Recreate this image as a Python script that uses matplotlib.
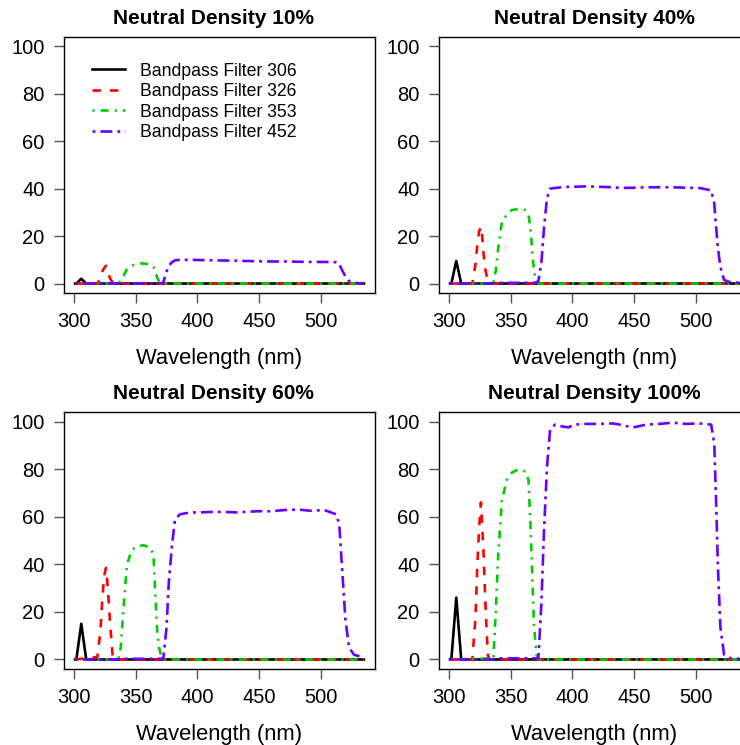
import matplotlib
matplotlib.use("Agg")
import matplotlib.pyplot as plt

plt.rcParams['font.family'] = ['Liberation Sans', 'DejaVu Sans']

# wavelength grids (nm) for each filter curve
wl_306 = [301, 302, 306, 310, 535]
wl_326 = [301, 319, 321.5, 323, 324.5, 326, 327, 328, 329.5, 331.5, 333, 535]
wl_353 = [301, 336, 338, 340, 343, 347, 351, 356.5, 362, 364.5, 366, 367.5, 369, 371, 373, 535]
wl_452 = [301, 335, 340, 370, 372.5, 375, 377, 379.5, 382, 386, 391, 397, 401, 411.5,
          422, 433, 438.5, 449, 460, 470.5, 481.5, 492, 503, 512.5, 515, 516.5, 518,
          520, 523, 527, 535]

# transmission (%), one list per neutral density panel
t306_10 = [0, 0, 2, 0, 0]
t306_40 = [0, 0, 9.5, 0, 0]
t306_60 = [0, 0, 15, 0, 0]
t306_100 = [0, 0, 26, 0, 0]

t326_10 = [0, 0, 2, 5, 6.5, 7.5, 6, 4, 2, 0.3, 0, 0]
t326_40 = [0, 0, 8, 16, 22, 24, 20, 13, 6, 1, 0, 0]
t326_60 = [0, 1, 12, 25, 35, 38.5, 33, 26, 14, 1, 0, 0]
t326_100 = [0, 0, 17, 39, 55, 66, 56, 46, 25, 2, 0, 0]

t353_10 = [0, 0, 1, 3, 6, 7.5, 8.3, 8.5, 8, 7, 5, 2.5, 1, 0.3, 0, 0]
t353_40 = [0, 0, 5.5, 15, 26, 29, 31, 31.5, 31, 29, 24, 14, 5, 1, 0, 0]
t353_60 = [0, 0, 5, 20, 40, 46, 47.5, 48, 47, 44, 27, 12, 5, 1, 0, 0]
t353_100 = [0, 0.5, 20, 44, 67, 75.5, 78.5, 80, 79, 75.5, 58, 37, 14, 2, 0, 0]

t452_10 = [0, 0, 0, 0, 0.5, 5, 7.5, 9, 9.8, 10, 10, 10, 9.9, 9.8, 9.7, 9.6, 9.5, 9.4,
           9.3, 9.3, 9.2, 9.1, 9.1, 9, 8.5, 6.5, 5, 3, 1, 0.3, 0]
t452_40 = [0, 0, 0.3, 0.3, 1, 9, 23, 36, 40, 40.3, 40.6, 40.8, 40.8, 41, 40.8, 40.6,
           40.3, 40.4, 40.6, 40.6, 40.6, 40.4, 40.3, 39.3, 34, 24, 15, 7, 1.5, 0.7, 0.3]
t452_60 = [0, 0, 0.3, 0.3, 0.5, 13, 33, 48, 59, 61, 61.5, 61.8, 61.8, 62, 62, 61.8,
           62, 62.3, 62.3, 62.8, 63, 62.5, 62.8, 61, 57, 45, 33, 17, 5, 2, 0.8]
t452_100 = [0, 0, 0.5, 0.5, 0.3, 24, 53, 81, 96.5, 98.7, 98, 97.5, 98.7, 99, 99, 99.2,
            98.7, 97.5, 98.7, 99, 99.5, 99, 99.2, 98.7, 91, 67, 39, 13.6, 2, 0.7, 0.3]

titles = ['Neutral Density 10%', 'Neutral Density 40%',
          'Neutral Density 60%', 'Neutral Density 100%']
labels = ['Bandpass Filter 306', 'Bandpass Filter 326',
          'Bandpass Filter 353', 'Bandpass Filter 452']
xticks = [300, 350, 400, 450, 500]
yticks = [0, 20, 40, 60, 80, 100]

panels = [
    (t306_10, t326_10, t353_10, t452_10),
    (t306_40, t326_40, t353_40, t452_40),
    (t306_60, t326_60, t353_60, t452_60),
    (t306_100, t326_100, t353_100, t452_100),
]
grids = [wl_306, wl_326, wl_353, wl_452]
colors = ['black', '#FF0000', '#00CD00', '#6A00FF']
dashes = [None, (3.2, 3.4), (0.8, 2.3, 3, 2.3), (1.1, 1.9, 4.5, 1.9)]

W, H = 740, 745
# axes boxes in pixels: left, top, right, bottom
boxes = [(64, 37, 375, 293), (439, 37, 750, 293),
         (64, 412, 375, 669), (439, 412, 750, 669)]
title_shift = [-6, 0, -6, 0]  # px, left titles sit a bit off-centre

fig = plt.figure(figsize=(W / 100, H / 100), dpi=100)

for i, (l, t, r, b) in enumerate(boxes):
    ax = fig.add_axes([l / W, 1 - b / H, (r - l) / W, (b - t) / H])
    for j in range(4):
        line, = ax.plot(grids[j], panels[i][j], color=colors[j], lw=1.9,
                        label=labels[j])
        if dashes[j] is not None:
            line.set_dashes(dashes[j])
    ax.set_xlim(292, 544)
    ax.set_ylim(-4, 104)
    ax.set_xticks(xticks)
    ax.set_yticks(yticks)
    ax.tick_params(direction='out', length=7, width=1, color='#555555',
                   labelsize=14.5, pad=7)
    for s in ax.spines.values():
        s.set_linewidth(1)
        s.set_color('black')
    ax.set_title(titles[i], fontsize=15, fontweight='bold', pad=9,
                 x=0.5 + title_shift[i] / (r - l))
    ax.set_xlabel('Wavelength (nm)', fontsize=15.8, labelpad=12)
    if i == 0:
        ax.legend(loc='upper left', bbox_to_anchor=(0.09, 0.90), frameon=False,
                  fontsize=12.7, handlelength=1.85, handletextpad=0.9,
                  labelspacing=0.2, borderaxespad=0, borderpad=0)

fig.savefig('out.png', dpi=100)
